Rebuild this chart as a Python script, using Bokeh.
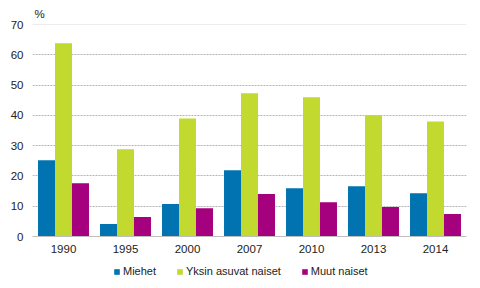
from bokeh.plotting import figure
from bokeh.layouts import column
from bokeh.models import ColumnDataSource, FactorRange, Legend, LegendItem, FixedTicker, Span, Range1d
from bokeh.transform import dodge
from bokeh.embed import file_html
from bokeh.resources import INLINE

years = ["1990", "1995", "2000", "2007", "2010", "2013", "2014"]
miehet = [25.2, 4.1, 10.7, 21.9, 15.9, 16.6, 14.3]
yksin = [63.8, 28.8, 39.0, 47.3, 46.0, 40.0, 38.0]
muut = [17.6, 6.4, 9.3, 14.0, 11.3, 9.7, 7.4]
series_names = ["Miehet", "Yksin asuvat naiset", "Muut naiset"]
colors = ["#0073B0", "#C2D92F", "#A5007E"]
y_ticks = [0, 10, 20, 30, 40, 50, 60, 70]

src = ColumnDataSource(dict(years=years, miehet=miehet, yksin=yksin, muut=muut))

p = figure(width=480, height=258, x_range=FactorRange(*years),
           y_range=(0, 70), output_backend="svg", toolbar_location=None,
           min_border_left=32, min_border_right=14, min_border_top=24, min_border_bottom=22)
p.x_range.range_padding = 0
p.x_range.factor_padding = 0

bw = 0.274
offsets = [-bw, 0, bw]
cols = ["miehet", "yksin", "muut"]
for off, col, c in zip(offsets, cols, colors):
    p.vbar(x=dodge("years", off, range=p.x_range), top=col, width=bw, bottom=0,
           source=src, fill_color=c, line_color=None)

p.outline_line_color = None
p.background_fill_color = "white"

p.yaxis.ticker = FixedTicker(ticks=y_ticks)
p.ygrid.ticker = FixedTicker(ticks=y_ticks[1:-1])
p.ygrid.grid_line_color = "#b5b5b5"
p.ygrid.grid_line_dash = "2 1"
p.xgrid.grid_line_color = None
p.add_layout(Span(location=70, dimension="width", line_color="#d9d9d9", line_width=1))

p.yaxis.axis_line_color = None
p.yaxis.major_tick_line_color = None
p.yaxis.minor_tick_line_color = None
p.yaxis.major_tick_out = 0
p.yaxis.major_tick_in = 0
p.yaxis.minor_tick_out = 0
p.yaxis.major_label_text_font = "Liberation Sans"
p.yaxis.major_label_text_font_size = "11.5px"
p.yaxis.major_label_text_color = "#222222"
p.yaxis.major_label_standoff = 9

p.xaxis.axis_line_color = "#bfbfbf"
p.xaxis.major_tick_line_color = None
p.xaxis.minor_tick_line_color = None
p.xaxis.major_tick_out = 0
p.xaxis.major_tick_in = 0
p.xaxis.minor_tick_out = 0
p.xaxis.major_label_text_font = "Liberation Sans"
p.xaxis.major_label_text_font_size = "11.5px"
p.xaxis.major_label_text_color = "#222222"
p.xaxis.major_label_standoff = 8

p.title.text = "%"
p.title.text_font = "Liberation Sans"
p.title.text_font_size = "11.5px"
p.title.text_font_style = "normal"
p.title.text_color = "#222222"
p.title.offset = 2

# legend strip (bars drawn far outside its visible y-range, only the legend shows)
lg = figure(width=480, height=30, x_range=p.x_range, y_range=Range1d(1000, 1001),
            output_backend="svg", toolbar_location=None,
            min_border_left=0, min_border_right=0, min_border_top=0, min_border_bottom=0)
lg.axis.visible = False
lg.grid.visible = False
lg.outline_line_color = None
lrs = []
for off, col, c in zip(offsets, cols, colors):
    lrs.append(lg.vbar(x=dodge("years", off, range=p.x_range), top=col, width=bw, bottom=0,
                       source=src, fill_color=c, line_color=None))

legend = Legend(items=[LegendItem(label=n, renderers=[r]) for n, r in zip(series_names, lrs)],
                orientation="horizontal", location=(81, 11),
                label_text_font="Liberation Sans", label_text_font_size="11px",
                label_text_color="#222222", glyph_width=7, glyph_height=7,
                label_standoff=3, spacing=20, border_line_color=None,
                background_fill_alpha=0, padding=0, margin=0)
lg.add_layout(legend, "center")

layout = column(p, lg, spacing=0)
open("out.html", "w").write(file_html(layout, INLINE))
